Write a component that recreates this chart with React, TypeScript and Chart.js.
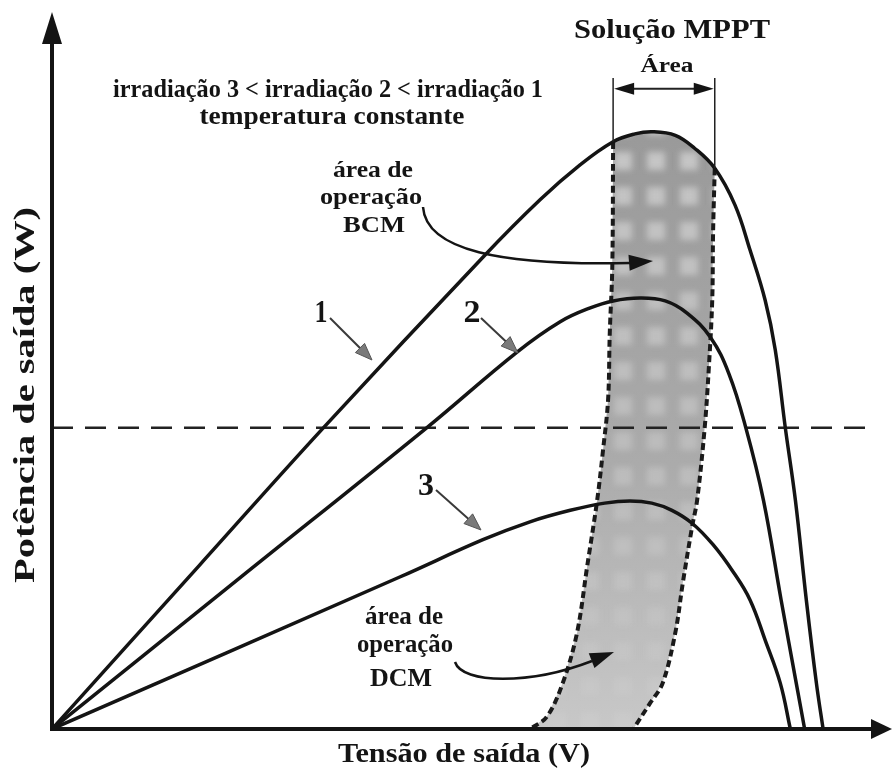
import React, { useEffect, useRef } from 'react';
import { Chart, registerables } from 'chart.js';

Chart.register(...registerables);

// ---------- Data (voltage / power in relative units, 0..100) ----------
// Curve 1 (highest irradiation)
const curve1V = [0, 17.6, 32.3, 51.3, 58.1, 62.9, 66.8, 69.4, 71.5, 74.2, 76.5, 78.9, 81.3, 83.1, 84.9, 86.1, 87.3, 88.5, 89.8, 91.0, 91.8];
const curve1P = [0, 22.9, 42.0, 65.8, 73.8, 78.7, 81.9, 83.0, 83.3, 82.8, 81.0, 78.2, 73.1, 66.8, 59.8, 52.9, 42.0, 31.9, 18.0, 6.4, 0];
// Curve 2
const curve2V = [0, 22.4, 44.6, 55.4, 60.5, 64.0, 66.8, 70.0, 73.0, 75.6, 78.4, 80.6, 82.6, 84.7, 86.8, 88.6, 89.6];
const curve2P = [0, 21.1, 42.0, 52.6, 56.8, 58.7, 59.7, 60.1, 59.7, 58.0, 54.6, 49.5, 42.0, 31.9, 18.0, 6.4, 0];
// Curve 3 (lowest irradiation)
const curve3V = [0, 41.4, 51.3, 56.9, 61.7, 65.8, 68.8, 71.4, 73.8, 76.2, 78.7, 81.1, 83.1, 84.9, 86.7, 87.9];
const curve3P = [0, 21.2, 26.4, 28.9, 30.5, 31.5, 31.8, 31.5, 30.5, 28.7, 25.7, 21.9, 18.0, 12.4, 6.4, 0];
// BCM / DCM boundary level (dashed line)
const boundaryLevel = 42.0;
const boundaryV = [0, 97.6];
// MPPT solution area: left and right edges (top to bottom)
const bandLeftV = [66.8, 66.7, 66.4, 66.2, 65.6, 64.9, 63.7, 62.5, 60.8, 58.9, 56.9];
const bandLeftP = [81.9, 64.4, 55.2, 45.9, 38.9, 31.9, 22.6, 13.4, 6.4, 1.7, 0];
const bandRightV = [78.9, 78.7, 78.6, 78.2, 77.7, 76.8, 76.2, 75.1, 74.2, 72.7, 71.2, 69.2];
const bandRightP = [78.2, 69.2, 59.8, 50.5, 42.0, 31.9, 28.2, 20.4, 13.4, 6.4, 3.6, 0];
// Bracket of the "Área" marker
const bracketTopP = 90.8;
const bracketArrowP = 89.3;

// ---------- Texts ----------
const FONT = '"Liberation Serif", "Times New Roman", serif';
const textLabels = [
  { t: 'Solução MPPT', x: 672, y: 38, s: 27, w: 196 },
  { t: 'Área', x: 667, y: 72, s: 20, w: 53 },
  { t: 'irradiação 3 < irradiação 2 < irradiação 1', x: 328, y: 97, s: 25, w: 430 },
  { t: 'temperatura constante', x: 332, y: 124, s: 25, w: 265 },
  { t: 'área de', x: 373, y: 177, s: 24, w: 80 },
  { t: 'operação', x: 371, y: 204, s: 24, w: 102 },
  { t: 'BCM', x: 374, y: 232, s: 24, w: 62 },
  { t: 'área de', x: 404, y: 624, s: 25, w: 78 },
  { t: 'operação', x: 405, y: 652, s: 25, w: 96 },
  { t: 'DCM', x: 401, y: 686, s: 25, w: 62 },
  { t: '1', x: 321, y: 322, s: 32, w: 13 },
  { t: '2', x: 472, y: 322, s: 32, w: 17 },
  { t: '3', x: 426, y: 495, s: 32, w: 16 },
  { t: 'Tensão de saída (V)', x: 464, y: 762, s: 28, w: 252 },
];
const yTitle = { t: 'Potência de saída (W)', x: 34, y: 395, s: 29, w: 376 };

const zip = (xs: number[], ys: number[]) => xs.map((x, i) => ({ x, y: ys[i] }));

function drawFitted(ctx: CanvasRenderingContext2D, text: string, x: number, y: number, size: number, width: number, rotate = false) {
  ctx.save();
  ctx.font = `bold ${size}px ${FONT}`;
  ctx.textAlign = 'center';
  ctx.textBaseline = 'alphabetic';
  const m = ctx.measureText(text).width || 1;
  ctx.translate(x, y);
  if (rotate) ctx.rotate(-Math.PI / 2);
  ctx.scale(width / m, 1);
  ctx.fillStyle = '#141414';
  ctx.fillText(text, 0, 0);
  ctx.restore();
}

function head(ctx: CanvasRenderingContext2D, fx: number, fy: number, tx: number, ty: number, len: number, hw: number, fill: string, stroke?: string) {
  const a = Math.atan2(ty - fy, tx - fx);
  const bx = tx - len * Math.cos(a);
  const by = ty - len * Math.sin(a);
  const px = -Math.sin(a) * hw;
  const py = Math.cos(a) * hw;
  ctx.beginPath();
  ctx.moveTo(tx, ty);
  ctx.lineTo(bx + px, by + py);
  ctx.lineTo(bx - px, by - py);
  ctx.closePath();
  ctx.fillStyle = fill;
  ctx.fill();
  if (stroke) {
    ctx.strokeStyle = stroke;
    ctx.lineWidth = 1;
    ctx.stroke();
  }
}

function straightArrow(ctx: CanvasRenderingContext2D, fx: number, fy: number, tx: number, ty: number) {
  const a = Math.atan2(ty - fy, tx - fx);
  const len = 17;
  ctx.beginPath();
  ctx.moveTo(fx, fy);
  ctx.lineTo(tx - len * Math.cos(a), ty - len * Math.sin(a));
  ctx.strokeStyle = '#3a3a3a';
  ctx.lineWidth = 2;
  ctx.stroke();
  head(ctx, fx, fy, tx, ty, len, 6.5, '#7a7a7a', '#555');
}

const annotationPlugin = {
  id: 'annotations',
  afterDraw(chart: any) {
    const ctx: CanvasRenderingContext2D = chart.ctx;
    const { left, top, right, bottom } = chart.chartArea;
    const X = (v: number) => chart.scales.x.getPixelForValue(v);
    const Y = (v: number) => chart.scales.y.getPixelForValue(v);
    ctx.save();
    ctx.lineCap = 'butt';
    // axes
    ctx.strokeStyle = '#141414';
    ctx.lineWidth = 4;
    ctx.beginPath();
    ctx.moveTo(left, bottom + 2);
    ctx.lineTo(left, top + 28);
    ctx.stroke();
    head(ctx, left, bottom, left, top, 32, 10, '#141414');
    ctx.beginPath();
    ctx.moveTo(left - 2, bottom);
    ctx.lineTo(right - 18, bottom);
    ctx.stroke();
    head(ctx, left, bottom, right, bottom, 21, 10, '#141414');

    // bracket for MPPT area
    const xl = X(bandLeftV[0]);
    const xr = X(bandRightV[0]);
    const yb = Y(bracketTopP);
    ctx.strokeStyle = '#222';
    ctx.lineWidth = 1.5;
    ctx.beginPath();
    ctx.moveTo(xl, yb);
    ctx.lineTo(xl, Y(bandLeftP[0]));
    ctx.moveTo(xr, yb);
    ctx.lineTo(xr, Y(bandRightP[0]));
    ctx.stroke();
    const ya = Y(bracketArrowP);
    ctx.lineWidth = 2;
    ctx.beginPath();
    ctx.moveTo(xl + 15, ya);
    ctx.lineTo(xr - 15, ya);
    ctx.stroke();
    head(ctx, xr, ya, xl + 1, ya, 20, 6, '#141414');
    head(ctx, xl, ya, xr - 1, ya, 20, 6, '#141414');

    // numbered arrows
    straightArrow(ctx, 330, 318, 372, 360);
    straightArrow(ctx, 481, 318, 518, 353);
    straightArrow(ctx, 436, 490, 481, 530);

    // BCM curved arrow
    ctx.strokeStyle = '#141414';
    ctx.lineWidth = 2.5;
    ctx.beginPath();
    ctx.moveTo(423, 207);
    ctx.bezierCurveTo(426, 250, 500, 266, 630, 263);
    ctx.stroke();
    head(ctx, 620, 263.5, 653, 261, 24, 8, '#141414');

    // DCM curved arrow
    ctx.beginPath();
    ctx.moveTo(455, 662);
    ctx.bezierCurveTo(462, 684, 530, 685, 592, 661);
    ctx.stroke();
    head(ctx, 588, 662, 614, 652, 24, 8, '#141414');

    // texts
    for (const l of textLabels) drawFitted(ctx, l.t, l.x, l.y, l.s, l.w);
    drawFitted(ctx, yTitle.t, yTitle.x, yTitle.y, yTitle.s, yTitle.w, true);
    ctx.restore();
  },
};

function makeBandPattern(ctx: CanvasRenderingContext2D, w: number, h: number) {
  const c = document.createElement('canvas');
  c.width = w;
  c.height = h;
  const g = c.getContext('2d')!;
  const grad = g.createLinearGradient(0, 140, 0, 730);
  grad.addColorStop(0, '#9a9a9a');
  grad.addColorStop(0.55, '#ababab');
  grad.addColorStop(1, '#c8c8c8');
  g.fillStyle = grad;
  g.fillRect(0, 0, w, h);
  g.filter = 'blur(3px)';
  const px = 33;
  const py = 35;
  for (let y = 12; y < h; y += py) {
    const a = Math.max(0.12, 0.55 * (1 - (y - 140) / 650));
    for (let x = 20; x < w; x += px) {
      g.fillStyle = `rgba(232,232,232,${a})`;
      g.fillRect(x, y, 18, 18);
    }
  }
  g.filter = 'none';
  return ctx.createPattern(c, 'no-repeat');
}

export default function App() {
  const ref = useRef<HTMLCanvasElement | null>(null);
  useEffect(() => {
    const canvas = ref.current;
    if (!canvas) return;
    const ctx = canvas.getContext('2d')!;
    const pattern = makeBandPattern(ctx, canvas.width, canvas.height);

    const curve1 = zip(curve1V, curve1P);
    const topEdge = curve1.filter((p) => p.x > bandLeftV[0] && p.x < bandRightV[0]);
    const leftEdge = zip(bandLeftV, bandLeftP);
    const rightEdge = zip(bandRightV, bandRightP);
    const bandShape = [...leftEdge.slice().reverse(), ...topEdge, ...rightEdge];

    const curveStyle = {
      borderColor: '#141414',
      borderWidth: 3.5,
      pointRadius: 0,
      fill: false,
      tension: 0.4,
      order: 1,
    };
    const edgeStyle = {
      borderColor: '#1a1a1a',
      borderWidth: 4,
      borderDash: [7, 4],
      pointRadius: 0,
      fill: false,
      tension: 0.35,
      order: 5,
    };

    const chart = new Chart(canvas, {
      type: 'line',
      data: {
        datasets: [
          { label: 'irradiação 1', data: curve1, ...curveStyle },
          { label: 'irradiação 2', data: zip(curve2V, curve2P), ...curveStyle },
          { label: 'irradiação 3', data: zip(curve3V, curve3P), ...curveStyle },
          {
            label: 'limite BCM/DCM',
            data: boundaryV.map((x) => ({ x, y: boundaryLevel })),
            borderColor: '#222',
            borderWidth: 2.5,
            borderDash: [21, 12],
            pointRadius: 0,
            fill: false,
            order: 2,
          },
          { label: 'borda esquerda', data: leftEdge, ...edgeStyle },
          { label: 'borda direita', data: rightEdge, ...edgeStyle },
          {
            label: 'Solução MPPT',
            data: bandShape,
            borderWidth: 0,
            borderColor: 'rgba(0,0,0,0)',
            backgroundColor: pattern as any,
            pointRadius: 0,
            tension: 0,
            fill: 'shape',
            order: 10,
          },
        ],
      },
      options: {
        animation: false,
        responsive: false,
        events: [],
        layout: { padding: { left: 52, top: 12, right: 1, bottom: 46 } },
        scales: {
          x: { type: 'linear', min: 0, max: 100, display: false },
          y: { type: 'linear', min: 0, max: 100, display: false },
        },
        plugins: { legend: { display: false }, tooltip: { enabled: false } },
      },
      plugins: [annotationPlugin],
    } as any);
    return () => chart.destroy();
  }, []);

  return (
    <div style={{ position: 'absolute', left: 0, top: 0, width: 893, height: 775, background: '#fff' }}>
      <canvas ref={ref} width={893} height={775} style={{ display: 'block' }} />
    </div>
  );
}
